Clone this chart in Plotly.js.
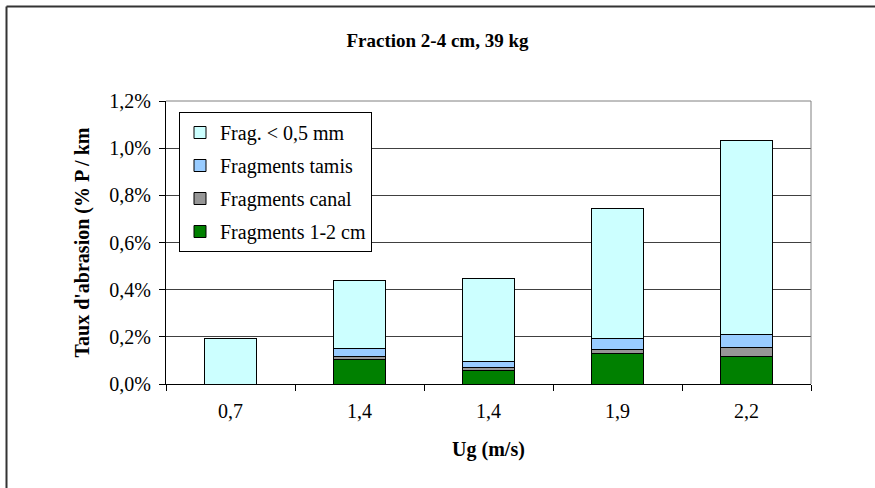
<!DOCTYPE html>
<html>
<head>
<meta charset="utf-8">
<script src="https://cdn.plot.ly/plotly-3.0.1.min.js"></script>
<style>html,body{margin:0;padding:0;background:#fff;}#chart{width:875px;height:488px;}</style>
</head>
<body>
<div id="chart"></div>
<script>
// Categories (Ug, m/s) — note two runs at 1,4
const categories = ["0,7", "1,4", "1,4", "1,9", "2,2"];
// Abrasion rate (% P / km), stacked components
const frag12cm   = [0,     0.106, 0.058, 0.128, 0.117];
const fragCanal  = [0,     0.010, 0.014, 0.019, 0.036];
const fragTamis  = [0,     0.035, 0.022, 0.045, 0.058];
const fragFine   = [0.195, 0.290, 0.355, 0.552, 0.820];
const seriesNames = ["Fragments 1-2 cm", "Fragments canal", "Fragments tamis", "Frag. < 0,5 mm"];
const seriesColors = ["#008000", "#969696", "#99CCFF", "#CCFFFF"];
const yTicks = [0, 0.2, 0.4, 0.6, 0.8, 1.0, 1.2];
const yTickText = ["0,0%", "0,2%", "0,4%", "0,6%", "0,8%", "1,0%", "1,2%"];

const pos = categories.map((c, i) => i);
const bounds = categories.map((c, i) => i - 0.5).concat([categories.length - 0.5]);
const seriesData = [frag12cm, fragCanal, fragTamis, fragFine];

const FONT = "'Liberation Serif', 'Times New Roman', serif";
const FS = 20;

const traces = seriesData.map((vals, k) => ({
  type: "bar",
  x: pos,
  y: vals,
  name: seriesNames[k],
  legendgroup: "g" + k,
  legendrank: 1000 - k,
  marker: { color: seriesColors[k], line: { color: "#000", width: 1 } },
  hoverinfo: "y+name"
}));
traces.push({ type: "scatter", x: [], y: [], xaxis: "x2", yaxis: "y", showlegend: false, hoverinfo: "skip" });

const layout = {
  width: 875, height: 488,
  margin: { l: 166, r: 64, t: 101, b: 104 },
  paper_bgcolor: "#fff", plot_bgcolor: "#fff",
  separators: ", ",
  font: { family: FONT, size: FS, color: "#000" },
  title: { text: "<b>Fraction 2-4 cm, 39 kg</b>", x: 0.5, xref: "container", y: 1 - 40 / 488, yref: "container", yanchor: "middle", font: { family: FONT, size: 19, color: "#000" } },
  barmode: "stack",
  bargap: 0.6,
  showlegend: true,
  legend: {
    x: (179 - 166) / 645, y: (384 - 112) / 283, xanchor: "left", yanchor: "top",
    bgcolor: "#fff", bordercolor: "#000", borderwidth: 1,
    traceorder: "grouped", tracegroupgap: 4,
    font: { family: FONT, size: FS, color: "#000" }
  },
  xaxis: {
    range: [-0.5, categories.length - 0.5],
    tickmode: "array", tickvals: pos, ticktext: categories,
    ticks: "outside", ticklen: 9, tickcolor: "rgba(0,0,0,0)", showgrid: false, zeroline: false,
    showline: true, linecolor: "#000", linewidth: 1,
    tickfont: { family: FONT, size: FS, color: "#000" },
    title: { text: "<b>Ug (m/s)</b>", standoff: 20, font: { family: FONT, size: FS, color: "#000" } },
    fixedrange: true
  },
  xaxis2: {
    overlaying: "x", anchor: "y", side: "bottom",
    range: [-0.5, categories.length - 0.5],
    tickmode: "array", tickvals: bounds, ticks: "outside", ticklen: 6, tickcolor: "#000", tickwidth: 1,
    showticklabels: false, showgrid: false, zeroline: false, showline: false
  },
  yaxis: {
    range: [0, 1.2],
    tickmode: "array", tickvals: yTicks, ticktext: yTickText,
    ticks: "outside", ticklen: 6, tickcolor: "#000", ticklabelstandoff: 4,
    showgrid: true, gridcolor: "#404040", gridwidth: 1, zeroline: false,
    showline: true, linecolor: "#000", linewidth: 1,
    tickfont: { family: FONT, size: FS, color: "#000" },
    title: { text: "<b>Taux d'abrasion (% P / km</b>", standoff: 14, font: { family: FONT, size: FS, color: "#000" } },
    fixedrange: true
  },
  shapes: [
    { type: "line", xref: "paper", yref: "paper", x0: 0, x1: 1, y0: 1, y1: 1, line: { color: "#808080", width: 1 } },
    { type: "line", xref: "paper", yref: "paper", x0: 1, x1: 1, y0: 0, y1: 1, line: { color: "#808080", width: 1 } },
    { type: "line", xref: "paper", yref: "paper", x0: (6.5 - 166) / 645, x1: (6.5 - 166) / 645, y0: (384 - 6.5) / 283, y1: (384 - 490) / 283, line: { color: "#333", width: 2 } },
    { type: "line", xref: "paper", yref: "paper", x0: (6.5 - 166) / 645, x1: (880 - 166) / 645, y0: (384 - 6.5) / 283, y1: (384 - 6.5) / 283, line: { color: "#333", width: 2 } }
  ]
};

Plotly.newPlot("chart", traces, layout, { displayModeBar: false, staticPlot: true });
</script>
</body>
</html>
